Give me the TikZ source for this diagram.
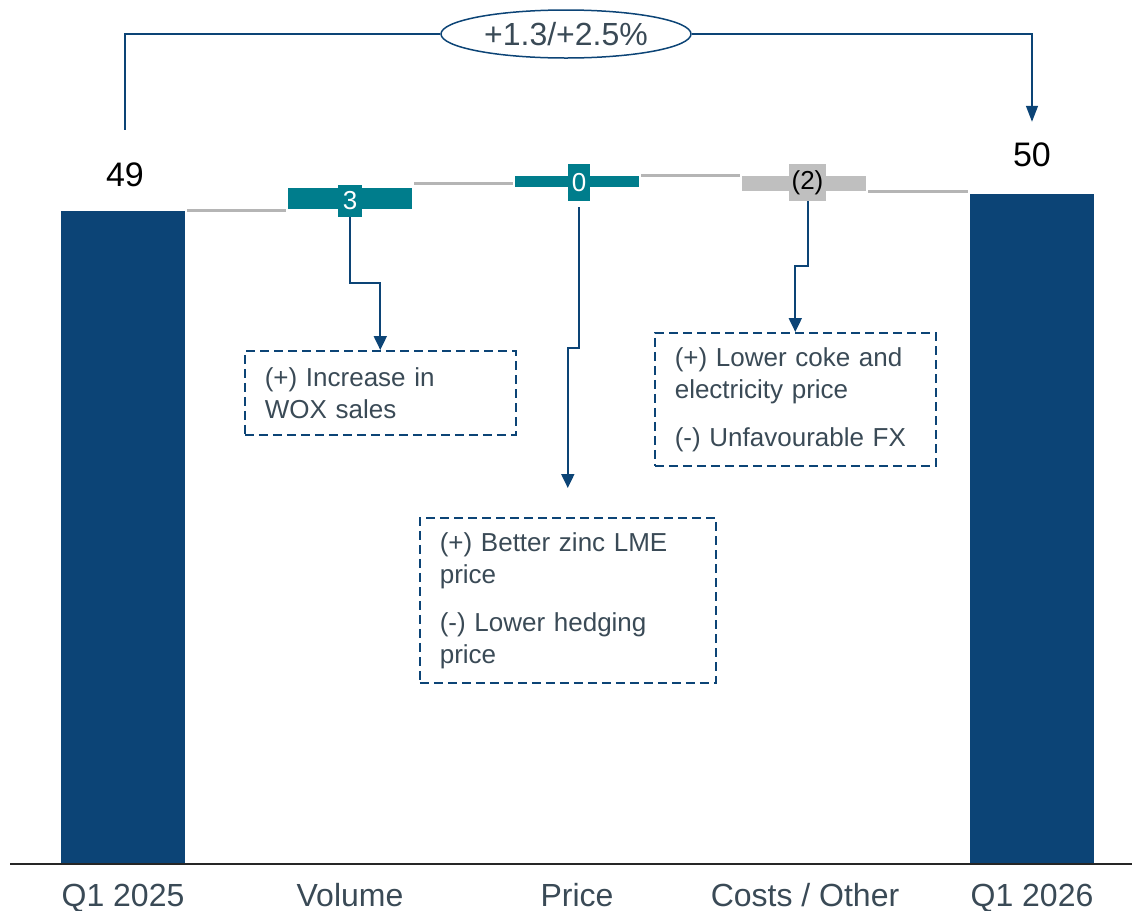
\documentclass[tikz,border=0pt]{standalone}
\usepackage{fontspec}
\setmainfont{Liberation Sans}
\usetikzlibrary{arrows.meta,positioning,shapes.geometric}
\definecolor{navy}{HTML}{0C4476}
\definecolor{tealbar}{HTML}{007D8C}
\definecolor{greybar}{HTML}{BFBFBF}
\definecolor{slate}{HTML}{3A4A56}

\begin{document}
\begin{tikzpicture}[x=0.5pt,y=-0.5pt,
  tot/.style={fill=navy,minimum width=62pt,inner sep=0pt,anchor=south},
  dlt/.style={minimum width=62pt,inner sep=0pt},
  up/.style={dlt,fill=tealbar},
  dn/.style={dlt,fill=greybar},
  tag/.style={inner sep=0pt,font=\fontsize{13}{13}\selectfont},
  link/.style={draw=greybar!95!black,line width=1.3pt,shorten <=1pt,shorten >=1pt},
  call/.style={draw=navy,line width=1pt,-{Triangle[length=7pt,width=6.5pt]}},
  brk/.style={draw=navy,line width=0.75pt},
  note/.style={draw=navy,dash pattern=on 4.5pt off 2.5pt,line width=0.8pt,text=slate,align=left,anchor=north west,inner xsep=10pt,font=\fontsize{13}{16}\selectfont},
  axl/.style={text=slate,anchor=base,font=\fontsize{16}{16}\selectfont},
  num/.style={inner sep=0pt,font=\fontsize{17}{17}\selectfont}]
\useasboundingbox (0,0) rectangle (1132,911);
\node[tot,minimum height=326.5pt] (q25) at (123,864) {};
\node[tot,minimum height=335pt] (q26) at (1032,864) {};
\node[up,minimum height=10.5pt] (vol) at (350,198.5) {};
\node[up,minimum height=5.5pt] (prc) at (577,181.5) {};
\node[dn,minimum height=7.5pt] (cst) at (804,183.5) {};
\node[tag,fill=tealbar,text=white,minimum width=12pt,minimum height=16pt] (l3) at (350,201) {3};
\node[tag,fill=tealbar,text=white,minimum width=11pt,minimum height=18.5pt] (l0) at (579,182.5) {0};
\node[tag,fill=greybar,minimum width=18.5pt,minimum height=18.5pt] (l2) at (807.5,182.5) {(2)};
\node[num] (v49) at (125,175) {49};
\node[num] (v50) at (1032,155) {50};
\draw[line width=1pt,black!85] (10,864) -- (1132,864);
\node[axl] (x1) at (123,906) {Q1 2025};
\node[axl] (x2) at (350,906) {Volume};
\node[axl] (x3) at (577,906) {Price};
\node[axl] (x4) at (805,906) {Costs / Other};
\node[axl] (x5) at (1032,906) {Q1 2026};
\draw[link] (q25.north east) -- (q25.north east -| vol.west);
\draw[link] ([yshift=2pt]vol.north east) -- ([yshift=2pt]vol.north east -| prc.west);
\draw[link] (prc.north east) -- (prc.north east -| cst.west);
\draw[link] (cst.south east) -- (cst.south east -| q26.west);
\node[note,text width=115.5pt,minimum height=42pt] (nv) at (244,350) {(+) Increase in\\WOX sales};
\node[note,text width=128pt,minimum height=82.5pt] (np) at (419,517) {(+) Better zinc LME\\price\\[8pt](-) Lower hedging\\price};
\node[note,text width=120.5pt,minimum height=66.5pt] (nc) at (654,332) {(+) Lower coke and\\electricity price\\[8pt](-) Unfavourable FX};
\coordinate (ptip) at ([yshift=14.5pt]np.north);
\draw[call] (l3.south) -- ++(0,66) -| (nv.north);
\draw[call] ([yshift=-3pt]l0.south) -- ++(0,141) -| (ptip);
\draw[call] (l2.south) -- ++(0,65) -| (nc.north);
\node[draw=navy,ellipse,line width=0.75pt,minimum width=125pt,minimum height=24pt,inner sep=0pt,text=slate,font=\fontsize{16}{16}\selectfont] (chg) at (566,34) {+1.3/+2.5\%};
\coordinate (bs) at ([yshift=16.4pt]v49.north);
\coordinate (be) at ([yshift=10.4pt]v50.north);
\draw[brk] (bs) |- (chg.west);
\draw[brk,-{Triangle[length=8pt,width=6pt]}] (chg.east) -| (be);
\end{tikzpicture}
\end{document}
